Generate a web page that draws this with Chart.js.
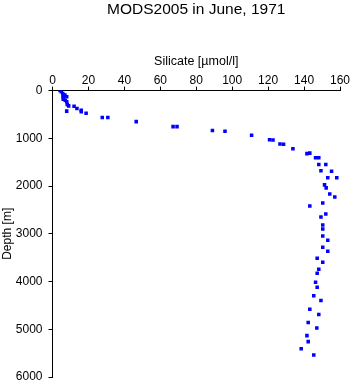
<!DOCTYPE html>
<html>
<head>
<meta charset="utf-8">
<script src="https://cdn.jsdelivr.net/npm/chart.js@4"></script>
<style>
  html, body { margin: 0; padding: 0; background: #fff; }
  #wrap { width: 351px; height: 384px; }
</style>
</head>
<body>
<div id="wrap"><canvas id="chart"></canvas></div>
<script>
// Profile MODS2005, June 1971 - silicate vs depth
const depth = [
  0, 25, 60, 95, 120, 150, 180, 95, 130, 200, 235, 290, 320, 430, 326, 375,
  410, 445, 475, 565, 565, 650, 755, 755, 838, 853, 937, 1030, 1035, 1120,
  1126, 1217, 1320, 1310, 1407, 1407, 1547, 1547, 1680, 1688, 1827, 1827,
  1975, 2038, 2164, 2227, 2353, 2417, 2585, 2648, 2817, 2900, 3048, 3133,
  3280, 3364, 3512, 3596, 3743, 3827, 4017, 4122, 4298, 4396, 4579, 4691,
  4859, 4972, 5133, 5259, 5406, 5541
];
const silicate = [
  4.2, 4.9, 5.7, 6.0, 6.0, 6.0, 6.0, 6.9, 7.9, 7.1, 7.9, 8.2, 9.0, 7.9, 12.0, 13.6,
  16.0, 16.0, 18.7, 27.7, 30.8, 46.6, 67.1, 69.3, 89.0, 96.0, 110.8, 120.8, 122.7, 126.6,
  128.6, 133.8, 141.6, 143.2, 146.4, 148.2, 148.2, 152.1, 149.4, 155.3, 153.2, 158.2,
  151.4, 152.3, 154.3, 157.1, 150.4, 143.2, 152.1, 149.4, 150.4, 150.4, 150.4, 153.2,
  150.4, 153.2, 147.3, 150.4, 148.2, 147.3, 146.4, 147.3, 145.4, 149.4, 143.2, 148.2,
  142.3, 147.1, 141.6, 142.3, 138.4, 145.4
];

const FONT = "'Liberation Sans', Arial, Helvetica, sans-serif";
const points = depth.map((d, i) => ({ x: silicate[i], y: d }));

new Chart(document.getElementById('chart'), {
  type: 'scatter',
  data: {
    datasets: [{
      data: points,
      backgroundColor: '#0000ff',
      borderWidth: 0,
      pointStyle: 'rect',
      pointRadius: 2.5,
    }],
  },
  options: {
    responsive: true,
    maintainAspectRatio: false,
    animation: false,
    layout: { padding: { top: 0, right: 11, bottom: 7, left: 0 } },
    plugins: {
      legend: { display: false },
      tooltip: { enabled: false },
      title: {
        display: true,
        fullSize: false,
        text: 'MODS2005 in June, 1971',
        color: '#000',
        font: { family: FONT, size: 15.5, weight: 'normal', lineHeight: 1.2 },
        padding: { top: 0, bottom: 4 },
      },
    },
    scales: {
      x: {
        type: 'linear',
        position: 'top',
        min: 0,
        max: 160,
        afterFit: (s) => { s.height = 68; },
        ticks: { stepSize: 20, color: '#000', padding: 0, font: { family: FONT, size: 12, lineHeight: 1 } },
        grid: { drawOnChartArea: false, drawTicks: true, tickLength: 4, color: '#000' },
        border: { display: true, color: '#000', width: 1 },
        title: {
          display: true,
          text: 'Silicate [µmol/l]',
          color: '#000',
          font: { family: FONT, size: 12.5 },
          padding: { top: 31, bottom: 0 },
        },
      },
      y: {
        type: 'linear',
        reverse: true,
        min: 0,
        max: 6000,
        afterFit: (s) => {
          s.width = 52.5;
          s.paddingTop = 0;
          s.paddingBottom = 0;
        },
        ticks: {
          stepSize: 1000,
          color: '#000',
          padding: 6,
          font: { family: FONT, size: 12 },
          callback: (v) => String(v),
        },
        grid: { drawOnChartArea: false, drawTicks: true, tickLength: 4, color: '#000' },
        border: { display: true, color: '#000', width: 1 },
        title: {
          display: true,
          text: 'Depth [m]',
          color: '#000',
          font: { family: FONT, size: 12 },
          padding: { top: 0, bottom: 0 },
        },
      },
    },
  },
});
</script>
</body>
</html>
